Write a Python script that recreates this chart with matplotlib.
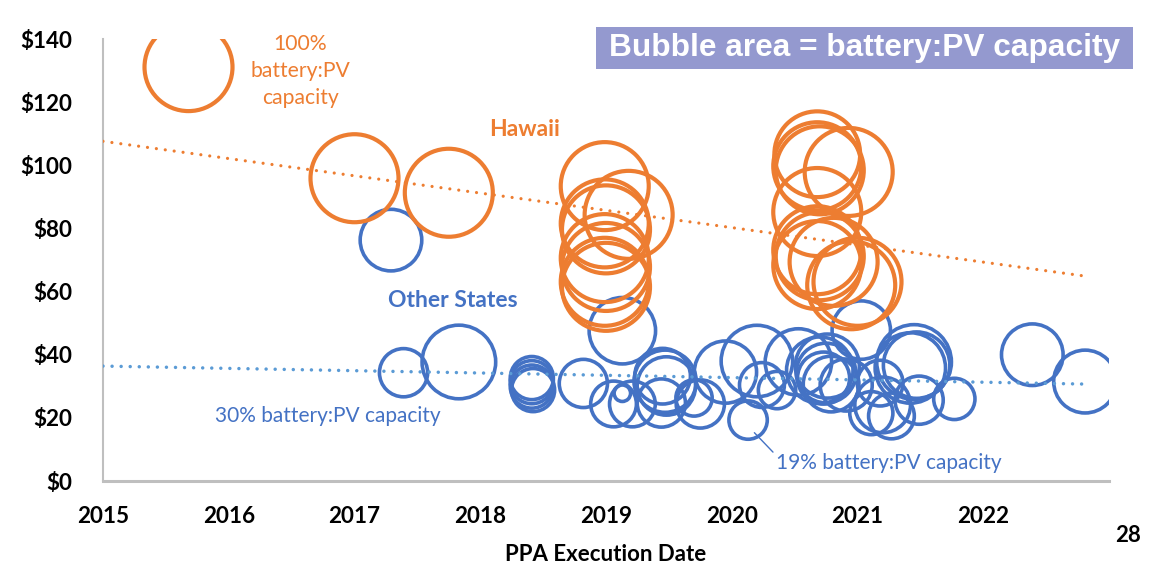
import numpy as np
import matplotlib
matplotlib.use("Agg")
import matplotlib.pyplot as plt
from matplotlib.patches import Rectangle

plt.rcParams['font.family'] = ['Lato', 'DejaVu Sans']

# ---- data -------------------------------------------------------------
# Hawaii PPAs: execution date, levelized price ($/MWh), battery:PV capacity
hawaii_date = [2017.00, 2017.75, 2018.99, 2019.18, 2018.99, 2019.00, 2018.99, 2019.00,
               2018.99, 2019.00, 2020.68, 2020.68, 2020.70, 2020.93, 2020.68, 2020.68,
               2020.70, 2020.81, 2020.68, 2021.00, 2020.95]
hawaii_price = [95.9, 91.3, 93.4, 84.3, 81.6, 79.7, 70.6, 67.8, 63.1, 61.5,
                103.5, 99.7, 98.4, 97.9, 85.2, 73.1, 71.2, 69.4, 68.4, 63.1, 62.0]
hawaii_ratio = [1.0, 1.0, 1.0, 1.0, 1.0, 1.0, 1.0, 1.0, 1.0, 1.0,
                0.95, 1.0, 1.0, 1.0, 1.0, 1.0, 1.0, 1.0, 1.0, 1.0, 1.0]

# Other states
other_date = [2017.29, 2017.39, 2017.83, 2018.41, 2018.41, 2018.41, 2018.42, 2018.82,
              2019.13, 2019.06, 2019.13, 2019.21, 2019.47, 2019.48, 2019.45, 2019.44,
              2019.75, 2019.70, 2019.95, 2020.20, 2020.13, 2020.24, 2020.36, 2020.53,
              2020.76, 2020.75, 2020.79, 2020.73, 2020.70, 2021.03, 2021.45, 2021.47,
              2021.42, 2021.77, 2021.11, 2021.27, 2021.49, 2021.20, 2022.39, 2022.81,
              2021.18, 2020.91]
other_price = [76.3, 34.3, 37.7, 32.6, 31.3, 29.9, 28.8, 30.9,
               47.6, 24.4, 27.8, 24.4, 31.6, 30.1, 33.2, 24.7,
               24.4, 26.3, 34.5, 38.0, 19.3, 30.4, 28.8, 37.7,
               36.4, 34.2, 30.7, 32.6, 35.1, 47.8, 37.7, 36.7,
               35.8, 26.0, 21.5, 20.6, 25.6, 24.1, 40.0, 31.5,
               31.0, 30.4]
other_ratio = [0.49, 0.30, 0.70, 0.24, 0.24, 0.24, 0.24, 0.30,
               0.57, 0.27, 0.035, 0.27, 0.50, 0.44, 0.40, 0.30,
               0.30, 0.17, 0.50, 0.66, 0.19, 0.26, 0.18, 0.57,
               0.53, 0.46, 0.40, 0.35, 0.57, 0.44, 0.72, 0.57,
               0.64, 0.22, 0.24, 0.27, 0.30, 0.40, 0.49, 0.51,
               0.27, 0.35]

# Linear trend lines (start/end of fitted line)
trend_dates = [2015.0, 2022.81]
hawaii_trend = [107.6, 64.9]
other_trend = [36.4, 30.7]

# Size key
key_date, key_price, key_ratio = 2015.68, 131.1, 1.0

year_ticks = [2015, 2016, 2017, 2018, 2019, 2020, 2021, 2022]
price_ticks = [0, 20, 40, 60, 80, 100, 120, 140]

ORANGE = '#ED7D31'
BLUE = '#4472C4'
TREND_BLUE = '#5B9BD5'
AXIS_GREY = '#BFBFBF'

# bubble for ratio 1.0 has a diameter of ~88 px (0.72 pt per px at 100 dpi)
FULL_DIAM_PT = 88 * 0.72


def bubble_size(r):
    return (FULL_DIAM_PT ** 2) * np.asarray(r, dtype=float)


# ---- figure -----------------------------------------------------------
W, H = 1158, 565
fig = plt.figure(figsize=(W / 100, H / 100), dpi=100)
ax = fig.add_axes([103 / W, (H - 481) / H, (1109 - 103) / W, (481 - 39) / H])

ax.set_xlim(2015, 2023)
ax.set_ylim(0, 140)

ax.scatter(other_date, other_price, s=bubble_size(other_ratio), facecolors='none',
           edgecolors=BLUE, linewidths=2.6, zorder=3)
ax.scatter(hawaii_date, hawaii_price, s=bubble_size(hawaii_ratio), facecolors='none',
           edgecolors=ORANGE, linewidths=3.0, zorder=4)
ax.scatter([key_date], [key_price], s=bubble_size([key_ratio]), facecolors='none',
           edgecolors=ORANGE, linewidths=3.0, zorder=4)

ax.plot(trend_dates, hawaii_trend, color=ORANGE, lw=2.3, linestyle=(0, (0.01, 2.8)),
        dash_capstyle='round', zorder=5)
ax.plot(trend_dates, other_trend, color=TREND_BLUE, lw=2.5, linestyle=(0, (0.01, 2.6)),
        dash_capstyle='round', zorder=5)

# axes styling
for side in ('top', 'right'):
    ax.spines[side].set_visible(False)
ax.spines['left'].set_color(AXIS_GREY)
ax.spines['left'].set_linewidth(1.5)
ax.spines['bottom'].set_color(AXIS_GREY)
ax.spines['bottom'].set_linewidth(2.2)

ax.set_xticks(year_ticks)
ax.set_xticklabels([str(y) for y in year_ticks])
ax.set_yticks(price_ticks)
ax.set_yticklabels([f'${p}' for p in price_ticks])
ax.tick_params(axis='both', length=0, labelsize=16.2)
ax.tick_params(axis='x', pad=18)
ax.tick_params(axis='y', pad=22)
for lab in ax.get_xticklabels() + ax.get_yticklabels():
    lab.set_fontweight('bold')

ax.set_xlabel('PPA Execution Date', fontsize=16, fontweight='bold', labelpad=12)

# annotations
ax.text(2016.57, 129.9, '100%\nbattery:PV\ncapacity', color=ORANGE, fontsize=15.2,
        ha='center', va='center', linespacing=1.42)
ax.text(2018.35, 111.2, 'Hawaii', color=ORANGE, fontsize=16.5, fontweight='bold',
        ha='center', va='center')
ax.text(2017.78, 57.3, 'Other States', color=BLUE, fontsize=16.5, fontweight='bold',
        ha='center', va='center')
ax.text(2016.79, 20.6, '30% battery:PV capacity', color=BLUE, fontsize=15,
        ha='center', va='center')
ax.annotate('19% battery:PV capacity', xy=(2020.18, 15.3), xytext=(2020.35, 5.7),
            color=BLUE, fontsize=15, ha='left', va='center',
            arrowprops=dict(arrowstyle='-', color=BLUE, lw=1.0,
                            shrinkA=0, shrinkB=0,
                            relpos=(0.0, 0.9)))

# title box
box_l, box_r, box_t, box_b = 596, 1133, 27, 69
fig.add_artist(Rectangle((box_l / W, (H - box_b) / H), (box_r - box_l) / W,
                         (box_b - box_t) / H, transform=fig.transFigure,
                         facecolor='#9499CF', edgecolor='none', zorder=10))
fig.text((box_l + box_r) / 2 / W, (H - (box_t + box_b) / 2) / H,
         'Bubble area = battery:PV capacity', family=['Liberation Sans', 'DejaVu Sans'],
         fontsize=22.8, fontweight='bold', color='white', ha='center', va='center',
         zorder=11)

# slide number
fig.text(1128 / W, (H - 535) / H, '28', fontsize=16, fontweight='bold',
         ha='center', va='center')

fig.savefig('out.png', dpi=100)
